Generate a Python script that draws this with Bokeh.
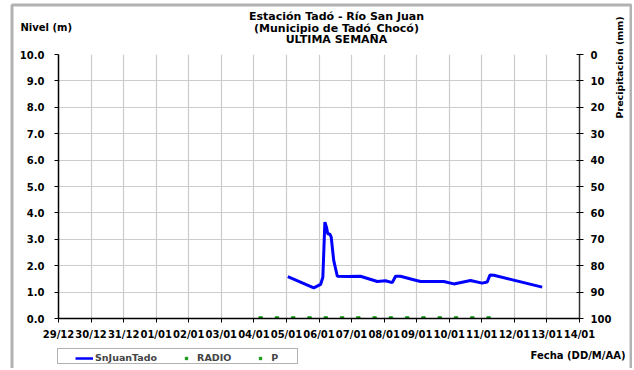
import pandas as pd
from bokeh.plotting import figure
from bokeh.models import (Range1d, LinearAxis, FixedTicker, DaysTicker, DatetimeTickFormatter,
                          PrintfTickFormatter, Label, Legend, LegendItem, ColumnDataSource,
                          BoxAnnotation)
from bokeh.embed import file_html
from bokeh.resources import INLINE

# ---------------- data ----------------
title_lines = ["Estación Tadó - Río San Juan", "(Municipio de Tadó_Chocó)", "ULTIMA SEMANA"]

nivel_time = ["2014-01-05 01:00", "2014-01-05 20:10", "2014-01-06 01:10", "2014-01-06 02:50",
              "2014-01-06 04:20", "2014-01-06 05:30", "2014-01-06 06:30", "2014-01-06 08:00",
              "2014-01-06 09:00", "2014-01-06 10:50", "2014-01-06 13:30", "2014-01-06 20:50",
              "2014-01-07 06:30", "2014-01-07 19:00", "2014-01-08 01:00", "2014-01-08 06:00",
              "2014-01-08 08:25", "2014-01-08 12:00", "2014-01-08 21:00", "2014-01-09 02:50",
              "2014-01-09 20:00", "2014-01-10 03:20", "2014-01-10 15:40", "2014-01-11 00:15",
              "2014-01-11 04:00", "2014-01-11 06:00", "2014-01-11 08:50", "2014-01-12 20:30"]
nivel_m = [1.59, 1.16, 1.29, 1.56, 3.65, 3.46, 3.20, 3.20, 3.08, 2.20, 1.60, 1.59,
           1.60, 1.40, 1.43, 1.36, 1.60, 1.60, 1.48, 1.40, 1.40, 1.31, 1.44, 1.34,
           1.38, 1.65, 1.64, 1.19]

radio_time = ["2014-01-04 05:00", "2014-01-05 05:00", "2014-01-06 05:00", "2014-01-07 05:00",
              "2014-01-08 05:00", "2014-01-09 05:00", "2014-01-10 05:00", "2014-01-11 05:00"]
radio_val = [0, 0, 0, 0, 0, 0, 0, 0]
p_time = ["2014-01-04 17:00", "2014-01-05 17:00", "2014-01-06 17:00", "2014-01-07 17:00",
          "2014-01-08 17:00", "2014-01-09 17:00", "2014-01-10 17:00"]
p_val = [0, 0, 0, 0, 0, 0, 0]

x_start = "2013-12-29"
x_end = "2014-01-14"
nivel_ticks = [0, 1, 2, 3, 4, 5, 6, 7, 8, 9, 10]
precip_ticks = [0, 10, 20, 30, 40, 50, 60, 70, 80, 90, 100]

W, H = 632, 368
FONT = "DejaVu Sans"
BLUE = "#0000ff"
GREEN = "#119911"

# ---------------- chart figure ----------------
p = figure(width=W, height=H, x_axis_type="datetime", output_backend="svg",
           toolbar_location=None,
           x_range=Range1d(pd.Timestamp(x_start), pd.Timestamp(x_end)),
           y_range=Range1d(0, 10),
           min_border_left=58, min_border_right=53, min_border_top=54, min_border_bottom=50)
p.outline_line_color = None
p.background_fill_color = "white"
p.border_fill_color = "white"
p.extra_y_ranges = {"precip": Range1d(start=100, end=0)}

xa = p.xaxis[0]
xa.ticker = DaysTicker(days=list(range(1, 32)))
xa.formatter = DatetimeTickFormatter(days="%d/%m", months="%d/%m", hours="%d/%m")
ya = p.yaxis[0]
ya.ticker = FixedTicker(ticks=nivel_ticks)
ya.formatter = PrintfTickFormatter(format="%.1f")
ra = LinearAxis(y_range_name="precip", ticker=FixedTicker(ticks=precip_ticks))
p.add_layout(ra, "right")

for ax in (xa, ya, ra):
    ax.major_label_text_font = FONT
    ax.major_label_text_font_style = "bold"
    ax.major_label_text_font_size = "10px"
    ax.major_label_text_color = "black"
    ax.minor_tick_line_color = None
    ax.axis_line_color = "black"
    ax.major_tick_line_color = "black"
    ax.axis_line_width = 1.5
xa.major_tick_in = 0
xa.major_tick_out = 4
xa.major_label_standoff = 6
ya.major_tick_in = 0
ya.major_tick_out = 4
ya.major_label_standoff = 10
ra.major_tick_in = 3
ra.major_tick_out = 4
ra.major_label_standoff = 7
ra.axis_line_color = "#333333"
ra.major_label_text_align = "left"

p.xgrid.ticker = xa.ticker
p.ygrid.ticker = FixedTicker(ticks=nivel_ticks)
p.xgrid.grid_line_color = "#cccccc"
p.ygrid.grid_line_color = "#cccccc"
p.xgrid.grid_line_width = 1.2
p.ygrid.grid_line_width = 1.2

src_n = ColumnDataSource(dict(t=pd.to_datetime(nivel_time), v=nivel_m))
src_r = ColumnDataSource(dict(t=pd.to_datetime(radio_time), v=radio_val))
src_p = ColumnDataSource(dict(t=pd.to_datetime(p_time), v=p_val))
p.line("t", "v", source=src_n, line_color=BLUE, line_width=3)
p.scatter("t", "v", source=src_r, marker="square", size=3.5, fill_color=GREEN, line_color=GREEN)
p.scatter("t", "v", source=src_p, marker="square", size=3.5, fill_color=GREEN, line_color=GREEN)

# ---------------- overlay figure: texts, legend and outer frame ----------------
q = figure(width=W, height=H, output_backend="svg", toolbar_location=None,
           x_range=Range1d(0, W), y_range=Range1d(H, 0),
           x_axis_location=None, y_axis_location=None, min_border=0)
q.outline_line_color = None
q.background_fill_color = None
q.border_fill_color = None
q.xgrid.visible = False
q.ygrid.visible = False
q.styles = {"position": "absolute", "top": "0px", "left": "0px"}

# outer frame of the whole chart
q.add_layout(BoxAnnotation(left=11.5, right=630.5, top=4.5, bottom=420,
                           fill_alpha=0, line_color="black", line_width=3))
# legend box
q.add_layout(BoxAnnotation(left=57, right=297, top=348, bottom=363,
                           fill_color="white", fill_alpha=1, line_color="black", line_width=1))

# legend samples: same series and styles (they fall outside this overlay's range)
lg_line = q.line("t", "v", source=src_n, line_color=BLUE, line_width=2.5)
lg_r = q.scatter("t", "v", source=src_r, marker="square", size=3.5, fill_color=GREEN, line_color=GREEN)
lg_p = q.scatter("t", "v", source=src_p, marker="square", size=3.5, fill_color=GREEN, line_color=GREEN)
legend = Legend(items=[LegendItem(label="SnJuanTado", renderers=[lg_line]),
                       LegendItem(label="RADIO", renderers=[lg_r]),
                       LegendItem(label="P", renderers=[lg_p])],
                orientation="horizontal", location=(75, 5),
                glyph_width=18, glyph_height=6, label_height=11, label_standoff=2, spacing=20,
                padding=2, margin=0,
                label_text_font=FONT, label_text_font_style="bold", label_text_font_size="9.5px",
                border_line_color=None, background_fill_alpha=0)
q.add_layout(legend)

def lab(text, x, y, align="center", size="11px", angle=0):
    q.add_layout(Label(text=text, x=x, y=y, text_align=align, text_baseline="middle",
                       angle=angle, text_font=FONT, text_font_style="bold",
                       text_font_size=size, text_color="black"))

lab(title_lines[0], 336, 16)
lab(title_lines[1], 336, 27.5)
lab(title_lines[2], 336, 38.5)
lab("Nivel (m)", 20, 26.5, align="left", size="10px")
lab("Precipitacion (mm)", 619, 67, size="9.5px", angle=1.5708)
lab("Fecha (DD/M/AA)", 625, 355, align="right", size="10px")

open("out.html", "w").write(file_html([p, q], INLINE))
